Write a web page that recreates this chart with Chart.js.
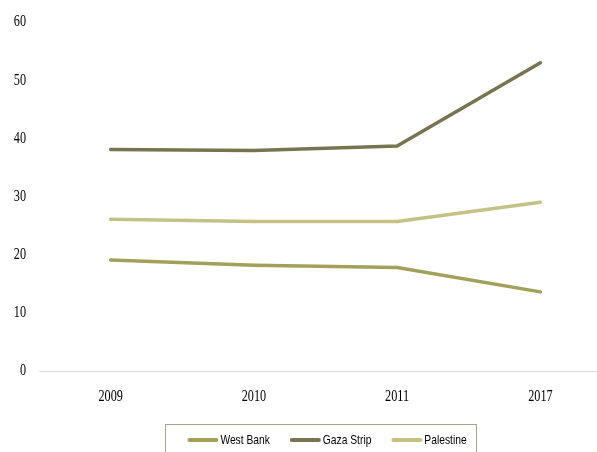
<!DOCTYPE html>
<html>
<head>
<meta charset="utf-8">
<script src="https://cdn.jsdelivr.net/npm/chart.js@4/dist/chart.umd.min.js"></script>
<style>
  html, body { margin: 0; padding: 0; background: #ffffff; overflow: hidden; }
  #wrap { position: relative; width: 650px; height: 452px; }
</style>
</head>
<body>
<div id="wrap"><canvas id="chart" width="650" height="452"></canvas></div>
<script>
// Years on the x axis
const years = ['2009', '2010', '2011', '2017'];

// Series values (%)
const westBank = [19.1, 18.2, 17.8, 13.6];
const gazaStrip = [38.1, 37.9, 38.7, 53.0];
const palestine = [26.1, 25.7, 25.7, 29.0];

// Y axis ticks
const yTicks = [0, 10, 20, 30, 40, 50, 60];

const seriesNames = ['West Bank', 'Gaza Strip', 'Palestine'];
const seriesColors = ['#a2a05b', '#77744f', '#c5c286'];

const serifFont = '17px "Liberation Serif", "Times New Roman", serif';
const sansFont = '13px "Liberation Sans", Arial, sans-serif';

// draw text squeezed horizontally (narrow face look)
function narrowText(ctx, text, x, y, squeeze, align) {
    ctx.save();
    ctx.translate(x, y);
    ctx.scale(squeeze, 1);
    ctx.textAlign = align;
    ctx.fillText(text, 0, 0);
    ctx.restore();
}

// Tick labels drawn from the scales' own pixel positions
const axisLabels = {
    id: 'axisLabels',
    afterDraw(chart) {
        const ctx = chart.ctx;
        const xs = chart.scales.x, ys = chart.scales.y;
        ctx.save();
        ctx.font = serifFont;
        ctx.fillStyle = '#000000';
        ctx.textBaseline = 'middle';
        yTicks.forEach(v => {
            narrowText(ctx, String(v), 26, ys.getPixelForValue(v), 0.72, 'right');
        });
        years.forEach((yr, i) => {
            narrowText(ctx, yr, xs.getPixelForValue(i), 397, 0.72, 'center');
        });
        ctx.restore();
    }
};

// Boxed legend under the plot
const boxLegend = {
    id: 'boxLegend',
    afterDraw(chart) {
        const ctx = chart.ctx;
        const sets = chart.data.datasets;
        const lineW = 31, textGap = 2, itemGap = 20, squeeze = 0.79;
        ctx.save();
        ctx.font = sansFont;
        ctx.textBaseline = 'middle';
        const widths = sets.map(ds => ctx.measureText(ds.label).width * squeeze);
        let total = 0;
        widths.forEach((w, i) => { total += lineW + textGap + w + (i < widths.length - 1 ? itemGap : 0); });
        const cy = 440;
        ctx.strokeStyle = '#a9a78a';
        ctx.lineWidth = 1;
        ctx.strokeRect(165.5, 424.5, 311, 32);
        let x = 327 - total / 2;
        sets.forEach((ds, i) => {
            ctx.strokeStyle = ds.borderColor;
            ctx.lineWidth = 4;
            ctx.lineCap = 'round';
            ctx.beginPath();
            ctx.moveTo(x + 2, cy);
            ctx.lineTo(x + lineW - 2, cy);
            ctx.stroke();
            x += lineW + textGap;
            ctx.fillStyle = '#000000';
            narrowText(ctx, ds.label, x, cy, squeeze, 'left');
            x += widths[i] + itemGap;
        });
        ctx.restore();
    }
};

const datasets = [westBank, gazaStrip, palestine].map((vals, i) => ({
    label: seriesNames[i],
    data: vals,
    borderColor: seriesColors[i],
    backgroundColor: seriesColors[i],
    borderWidth: 3.5,
    borderCapStyle: 'round',
    borderJoinStyle: 'round',
    pointRadius: 0,
    tension: 0,
    fill: false
}));

new Chart(document.getElementById('chart'), {
    type: 'line',
    data: { labels: years, datasets: datasets },
    options: {
        responsive: false,
        animation: false,
        layout: { padding: { left: 0, right: 38, top: 22, bottom: 0 } },
        plugins: {
            legend: { display: false },
            tooltip: { enabled: false }
        },
        scales: {
            x: {
                offset: true,
                grid: { display: false, drawTicks: false },
                border: { display: true, color: '#d9d9d9', width: 1 },
                ticks: { display: false },
                afterFit: scale => { scale.height = 81; }
            },
            y: {
                min: 0,
                max: 60,
                afterBuildTicks: scale => { scale.ticks = yTicks.map(v => ({ value: v })); },
                grid: { display: false, drawTicks: false },
                border: { display: false },
                ticks: { display: false },
                afterFit: scale => { scale.width = 39; }
            }
        }
    },
    plugins: [axisLabels, boxLegend]
});
</script>
</body>
</html>
